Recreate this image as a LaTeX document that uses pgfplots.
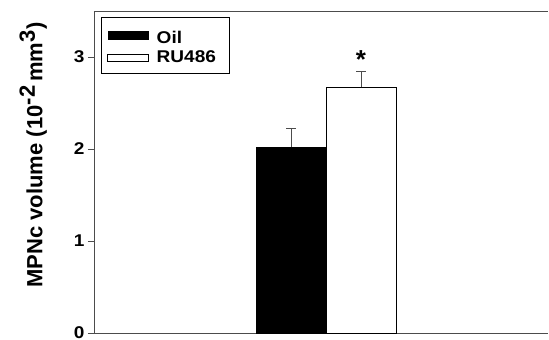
\documentclass[border=0pt]{standalone}
\usepackage{pgfplots}
\pgfplotsset{compat=1.18}
\usepackage{fontspec}
\setmainfont[FakeStretch=1.12]{Liberation Sans}
\newfontfamily\lblfont{Liberation Sans}
\newcommand\ff{\fontsize{17}{19}\selectfont\bfseries}
\begin{document}
\begin{tikzpicture}
\begin{axis}[
  scale only axis,
  width=454pt, height=322pt,
  xmin=0, xmax=454,
  ymin=0, ymax=3.5,
  axis x line*=bottom,
  axis y line*=left,
  axis line style={line width=0.8pt, black!70},
  xtick=\empty,
  ytick={0,1,2,3},
  tick align=outside,
  major tick length=6pt,
  tick style={line width=0.8pt, black!70},
  /pgf/number format/assume math mode=true,
  font=\ff,
  yticklabel style={font=\ff},
  ylabel={MPNc volume (10$^{\textbf{-2}}$\,mm$^{\textbf{3}}$)},
  ylabel style={at={(axis description cs:-0.134,0.553)}, anchor=center, rotate=0,
    font=\lblfont\fontsize{22}{24}\selectfont\bfseries},
  legend style={at={(axis description cs:0.0154,0.981)}, anchor=north west,
    draw=black, line width=0.8pt, inner xsep=6pt, inner ysep=7pt,
    font=\ff, row sep=2pt},
  legend cell align=left,
  error bars/y dir=plus,
  error bars/y explicit,
  error bars/error bar style={line width=0.8pt, black!70},
  error bars/error mark options={rotate=90, mark size=5pt, line width=0.8pt, black!70},
  clip=false,
]
\coordinate (O) at (rel axis cs:0,0);
\addplot[ybar, bar width=70, bar shift=0pt, fill=black, draw=black, line width=0.6pt,
  legend image code/.code={\fill[fill=black, draw=none] (0pt,-4.5pt) rectangle (41pt,4.5pt); \path[draw=none, fill=none] (0pt,0pt) -- (47pt,0pt);}]
  coordinates {(197,2.02) +- (0,0.20)};
\addlegendentry{\rule{0pt}{17pt}Oil}
\addplot[ybar, bar width=70, bar shift=0pt, fill=white, draw=black, line width=0.6pt,
  legend image code/.code={\draw[draw=black, fill=white, line width=0.6pt] (0pt,-3.5pt) rectangle (41pt,3.5pt); \path[draw=none, fill=none] (0pt,0pt) -- (47pt,0pt);}]
  coordinates {(267,2.67) +- (0,0.17)};
\addlegendentry{RU486\hspace*{5pt}}
\node[font=\lblfont\fontsize{26}{26}\selectfont\bfseries, anchor=base, inner sep=0pt] at (axis cs:267,2.88) {*};
\draw[line width=0.8pt, black!70] (rel axis cs:0,1) -- (rel axis cs:1,1);
\end{axis}
\pgfresetboundingbox
\path (O) ++(-94pt,-7pt) rectangle ++(549pt,340pt);
\end{tikzpicture}
\end{document}
